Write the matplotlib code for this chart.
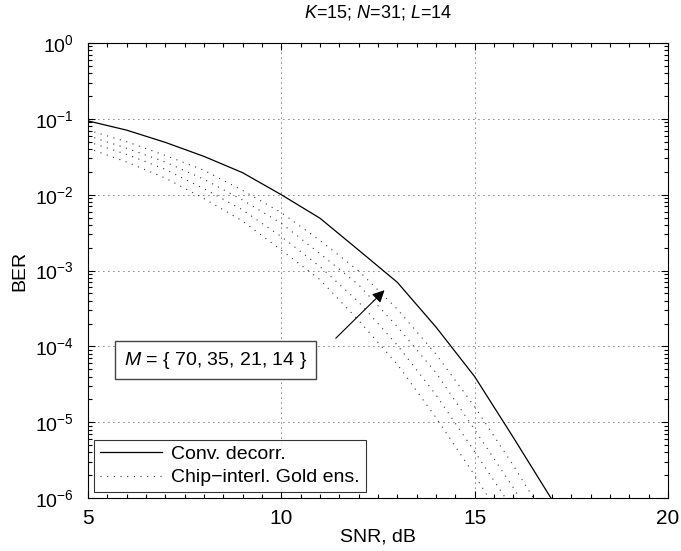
import numpy as np
import matplotlib
matplotlib.use("Agg")
import matplotlib.pyplot as plt
from matplotlib.ticker import MultipleLocator, FixedLocator, NullFormatter

plt.rcParams['font.family'] = ['Liberation Sans', 'DejaVu Sans']
plt.rcParams['mathtext.fontset'] = 'custom'
plt.rcParams['mathtext.rm'] = 'Liberation Sans'
plt.rcParams['mathtext.it'] = 'Liberation Sans:italic'

# SNR grid, dB
snr = [5, 6, 7, 8, 9, 10, 11, 12, 13, 14, 15, 16, 17]

# conventional decorrelator
ber_conv = [9.4e-2, 7.1e-2, 4.9e-2, 3.2e-2, 1.95e-2, 1.0e-2, 4.9e-3,
            1.86e-3, 7.0e-4, 1.8e-4, 4.0e-5, 6.3e-6, 9.5e-7]

# chip-interleaved Gold ensemble, one curve per M
ber_m70 = [7.1e-2, 5.0e-2, 3.3e-2, 2.1e-2, 1.14e-2, 5.8e-3, 2.5e-3,
           9.9e-4, 3.1e-4, 7.9e-5, 1.6e-5, 2.7e-6, 4.0e-7]
ber_m35 = [6.0e-2, 4.1e-2, 2.7e-2, 1.6e-2, 8.5e-3, 4.2e-3, 1.67e-3,
           6.5e-4, 1.82e-4, 4.5e-5, 8.0e-6, 1.37e-6, 2.0e-7]
ber_m21 = [5.0e-2, 3.4e-2, 2.16e-2, 1.2e-2, 6.3e-3, 2.8e-3, 1.13e-3,
           3.85e-4, 1.04e-4, 2.3e-5, 4.1e-6, 7.0e-7, 1.0e-7]
ber_m14 = [4.1e-2, 2.7e-2, 1.66e-2, 8.9e-3, 4.5e-3, 1.86e-3, 7.6e-4,
           2.2e-4, 5.8e-5, 1.15e-5, 2.0e-6, 3.0e-7, 5.0e-8]

fig = plt.figure(figsize=(6.81, 5.51), dpi=100)
ax = fig.add_axes([0.129, 0.096, 0.852, 0.826])

dots = (0, (1, 5))
ax.semilogy(snr, ber_conv, color='k', lw=0.9, label='Conv. decorr.')
ax.semilogy(snr, ber_m70, color='#333333', lw=0.8, linestyle=dots,
            label='Chip\u2212interl. Gold ens.')
for ber in (ber_m35, ber_m21, ber_m14):
    ax.semilogy(snr, ber, color='#333333', lw=0.8, linestyle=dots)

ax.set_xlim(5, 20)
ax.set_ylim(1e-6, 1)
ax.xaxis.set_major_locator(MultipleLocator(5))
ax.xaxis.set_minor_locator(MultipleLocator(0.5))
ax.yaxis.set_major_locator(FixedLocator([10.0 ** k for k in range(-6, 1)]))
minor = [m * 10.0 ** k for k in range(-6, 0) for m in range(2, 10)]
ax.yaxis.set_minor_locator(FixedLocator(minor))
ax.yaxis.set_minor_formatter(NullFormatter())

ax.tick_params(which='both', direction='in', top=True, right=True,
               labelsize=15, width=0.8, pad=8)
ax.tick_params(axis='y', which='major', labelsize=14, pad=10)
ax.tick_params(which='major', length=5)
ax.tick_params(which='minor', length=3)
ax.grid(True, which='major', color='k', lw=0.6, linestyle=(0, (1, 5)))
for s in ax.spines.values():
    s.set_linewidth(0.8)

ax.set_xlabel('SNR, dB', fontsize=14, labelpad=0)
ax.set_ylabel('BER', fontsize=14)
ax.yaxis.set_label_coords(-0.103, 0.5)
ax.set_title('$K$=15; $N$=31; $L$=14', fontsize=13, pad=18)

ax.text(8.3, 6.6e-5, '$M$ = { 70, 35, 21, 14 }', fontsize=14,
        ha='center', va='center',
        bbox=dict(boxstyle='square,pad=0.45', fc='white', ec='#444444', lw=1.0))
ax.annotate('', xy=(12.67, 5.5e-4), xytext=(11.41, 1.28e-4),
            arrowprops=dict(arrowstyle='-|>', color='k', lw=0.8,
                            mutation_scale=18, shrinkA=0, shrinkB=0))

leg = ax.legend(loc='lower left', fontsize=14, frameon=True, fancybox=False,
                edgecolor='k', borderaxespad=0.3, handlelength=3.2,
                borderpad=0.3, labelspacing=0.3, handletextpad=0.5)
leg.get_frame().set_linewidth(0.8)

fig.savefig('out.png', dpi=100)
